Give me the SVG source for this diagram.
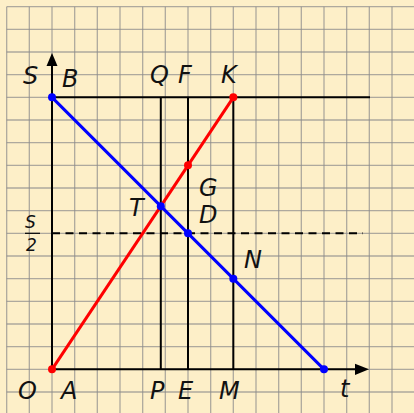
<svg xmlns="http://www.w3.org/2000/svg" width="414" height="413" viewBox="0 0 414 413">
<defs>
<style>
.grid line{stroke:#8c8c8c;stroke-opacity:0.7;stroke-width:1.3}
.blk{stroke:#000;stroke-width:2;fill:none}
.lbl{font-family:"DejaVu Sans",sans-serif;font-style:italic;font-size:24px;fill:#111}
.sm{font-family:"DejaVu Sans",sans-serif;font-style:italic;font-size:17px;fill:#111}
</style>
</defs>
<rect width="414" height="413" fill="#fdefc8"/>
<g class="grid">
<line x1="6.67" y1="6.67" x2="6.67" y2="413"/><line x1="29.33" y1="6.67" x2="29.33" y2="413"/><line x1="52" y1="6.67" x2="52" y2="413"/><line x1="74.67" y1="6.67" x2="74.67" y2="413"/><line x1="97.33" y1="6.67" x2="97.33" y2="413"/><line x1="120" y1="6.67" x2="120" y2="413"/><line x1="142.67" y1="6.67" x2="142.67" y2="413"/><line x1="165.33" y1="6.67" x2="165.33" y2="413"/><line x1="188" y1="6.67" x2="188" y2="413"/><line x1="210.67" y1="6.67" x2="210.67" y2="413"/><line x1="233.33" y1="6.67" x2="233.33" y2="413"/><line x1="256" y1="6.67" x2="256" y2="413"/><line x1="278.67" y1="6.67" x2="278.67" y2="413"/><line x1="301.33" y1="6.67" x2="301.33" y2="413"/><line x1="324" y1="6.67" x2="324" y2="413"/><line x1="346.67" y1="6.67" x2="346.67" y2="413"/><line x1="369.33" y1="6.67" x2="369.33" y2="413"/><line x1="392" y1="6.67" x2="392" y2="413"/>
<line y1="6.67" x1="6.67" y2="6.67" x2="414"/><line y1="29.33" x1="6.67" y2="29.33" x2="414"/><line y1="52" x1="6.67" y2="52" x2="414"/><line y1="74.67" x1="6.67" y2="74.67" x2="414"/><line y1="97.33" x1="6.67" y2="97.33" x2="414"/><line y1="120" x1="6.67" y2="120" x2="414"/><line y1="142.67" x1="6.67" y2="142.67" x2="414"/><line y1="165.33" x1="6.67" y2="165.33" x2="414"/><line y1="188" x1="6.67" y2="188" x2="414"/><line y1="210.67" x1="6.67" y2="210.67" x2="414"/><line y1="233.33" x1="6.67" y2="233.33" x2="414"/><line y1="256" x1="6.67" y2="256" x2="414"/><line y1="278.67" x1="6.67" y2="278.67" x2="414"/><line y1="301.33" x1="6.67" y2="301.33" x2="414"/><line y1="324" x1="6.67" y2="324" x2="414"/><line y1="346.67" x1="6.67" y2="346.67" x2="414"/><line y1="369.33" x1="6.67" y2="369.33" x2="414"/><line y1="392" x1="6.67" y2="392" x2="414"/>
</g>
<g id="axes">
<line class="blk" x1="52" y1="369.33" x2="358" y2="369.33"/>
<polygon points="369,369.33 355,363.8 355,374.9" fill="#000"/>
<line class="blk" x1="52" y1="369.33" x2="52" y2="64"/>
<polygon points="52,53 46.5,66 57.5,66" fill="#000"/>
</g>
<g id="connectors">
<line class="blk" x1="52" y1="97.33" x2="370" y2="97.33"/>
<line class="blk" x1="160.8" y1="97.33" x2="160.8" y2="369.33"/>
<line class="blk" x1="188" y1="97.33" x2="188" y2="369.33"/>
<line class="blk" x1="233.33" y1="97.33" x2="233.33" y2="369.33"/>
<line x1="52" y1="233.33" x2="363" y2="233.33" stroke="#000" stroke-width="2" stroke-dasharray="8,5.5"/>
<line x1="52" y1="97.33" x2="324" y2="369.33" stroke="#0000ff" stroke-width="3"/>
<line x1="52" y1="369.33" x2="233.33" y2="97.33" stroke="#ff0000" stroke-width="3"/>
</g>
<g id="points">
<circle cx="52" cy="97.33" r="4" fill="#0000ff"/>
<circle cx="324" cy="369.33" r="4" fill="#0000ff"/>
<circle cx="160.8" cy="206.13" r="4" fill="#0000ff"/>
<circle cx="188" cy="233.33" r="4" fill="#0000ff"/>
<circle cx="233.33" cy="278.67" r="4" fill="#0000ff"/>
<circle cx="52" cy="369.33" r="4" fill="#ff0000"/>
<circle cx="233.33" cy="97.33" r="4" fill="#ff0000"/>
<circle cx="188" cy="165.33" r="4" fill="#ff0000"/>
</g>
<g id="labels">
<text class="lbl" x="23" y="84">S</text>
<text class="lbl" x="62" y="87">B</text>
<text class="lbl" x="150" y="83">Q</text>
<text class="lbl" x="178" y="83">F</text>
<text class="lbl" x="221" y="83">K</text>
<text class="lbl" x="199" y="196">G</text>
<text class="lbl" x="129" y="216">T</text>
<text class="lbl" x="199" y="223">D</text>
<text class="lbl" x="244" y="268">N</text>
<text class="lbl" x="18" y="399">O</text>
<text class="lbl" x="61" y="399">A</text>
<text class="lbl" x="150" y="399">P</text>
<text class="lbl" x="178" y="399">E</text>
<text class="lbl" x="219" y="399">M</text>
<text class="lbl" x="340" y="397">t</text>
<text class="sm" x="25" y="228">S</text>
<line x1="25" y1="233.33" x2="40" y2="233.33" stroke="#111" stroke-width="1.3"/>
<text class="sm" x="26" y="251">2</text>
</g>
</svg>
